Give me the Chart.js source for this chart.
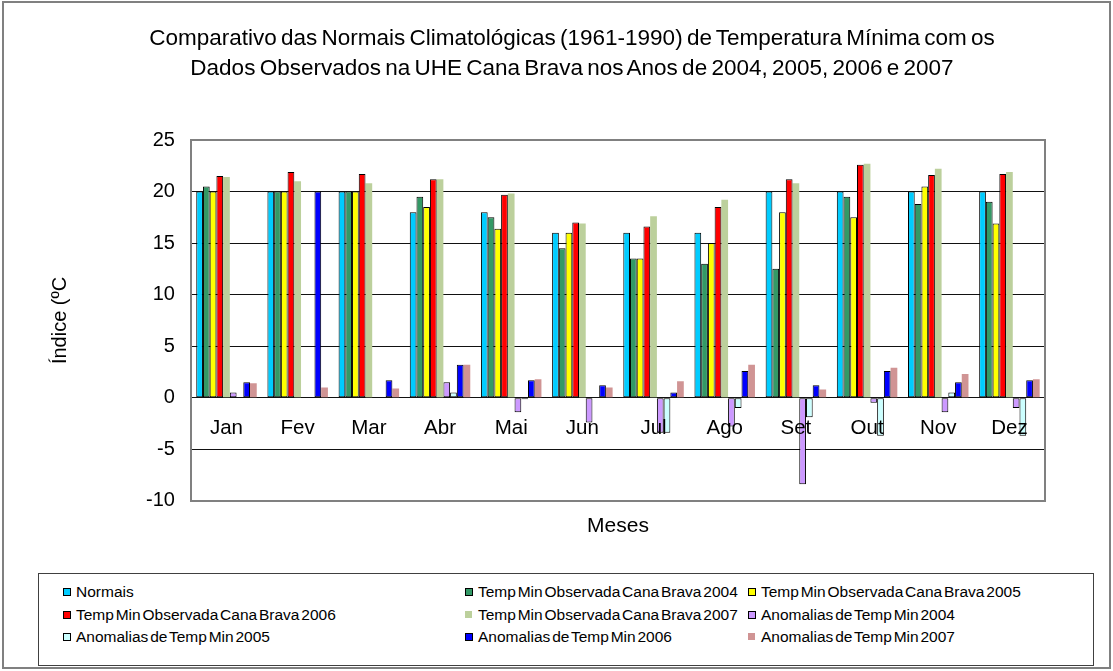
<!DOCTYPE html>
<html>
<head>
<meta charset="utf-8">
<script src="https://cdn.jsdelivr.net/npm/chart.js@4.4.0/dist/chart.umd.min.js"></script>
<style>
    html, body { margin: 0; padding: 0; background: #fff; }
    body { width: 1113px; height: 671px; position: relative; overflow: hidden; font-family: "Liberation Sans", Arial, sans-serif; }
    #frame { position: absolute; left: 2px; top: 1px; width: 1109px; height: 668px; box-sizing: border-box; border: 2px solid #808080; }
    #title { position: absolute; left: 0; top: 23px; width: 1144px; text-align: center; font-size: 22.5px; line-height: 30px; word-spacing: -2px; color: #000; }
    #chartCurve { position: absolute; left: 0; top: 0; }
    #legend { position: absolute; left: 38px; top: 573px; width: 1056px; height: 93px; box-sizing: border-box; border: 1px solid #404040; }
    .item { position: absolute; height: 20px; font-size: 15.5px; line-height: 20px; white-space: nowrap; word-spacing: -2.5px; color: #000; }
    .swatch { position: absolute; left: 0; top: 6px; width: 6px; height: 6px; border: 1px solid #000; }
    .item span.txt { position: absolute; left: 13px; top: 0; }
</style>
</head>
<body>
<div id="frame"></div>
<canvas id="chartCurve" width="1113" height="560"></canvas>
<div id="title">Comparativo das Normais Climatológicas (1961-1990) de Temperatura Mínima com os<br>Dados Observados na UHE Cana Brava nos Anos de 2004, 2005, 2006 e 2007</div>
<div id="legend"></div>
<script>
// months on the x axis
const MONTHS = ["Jan", "Fev", "Mar", "Abr", "Mai", "Jun", "Jul", "Ago", "Set", "Out", "Nov", "Dez"];
const Y_TICKS = [-10, -5, 0, 5, 10, 15, 20, 25];

// series values (ºC)
const normais  = [20, 20, 20, 18, 18, 16, 16, 16, 20, 20, 20, 20];
const obs2004  = [20.5, 20, 20, 19.5, 17.5, 14.5, 13.5, 13, 12.5, 19.5, 18.8, 19];
const obs2005  = [20, 20, 20, 18.5, 16.4, 16, 13.5, 15, 18, 17.5, 20.5, 16.9];
const obs2006  = [21.5, 21.9, 21.7, 21.2, 19.7, 17, 16.6, 18.5, 21.2, 22.6, 21.6, 21.7];
const obs2007  = [21.4, 21, 20.8, 21.2, 19.8, 16.9, 17.6, 19.2, 20.8, 22.7, 22.2, 21.9];
const anom2004 = [0.5, 0, 0, 1.5, -1.4, -2.4, -3.4, -2.8, -8.4, -0.5, -1.4, -1.0];
const anom2005 = [0, 0, 0, 0.5, -0.15, 0, -3.4, -1.0, -1.9, -3.7, 0.5, -3.7];
const anom2006 = [1.5, 20, 1.7, 3.2, 1.7, 1.2, 0.5, 2.6, 1.2, 2.6, 1.5, 1.7];
const anom2007 = [1.4, 1.0, 0.9, 3.2, 1.8, 1.0, 1.6, 3.2, 0.8, 2.9, 2.3, 1.8];

const SERIES_NAMES = [
    "Normais",
    "Temp Min Observada Cana Brava 2004",
    "Temp Min Observada Cana Brava 2005",
    "Temp Min Observada Cana Brava 2006",
    "Temp Min Observada Cana Brava 2007",
    "Anomalias de Temp Min 2004",
    "Anomalias de Temp Min 2005",
    "Anomalias de Temp Min 2006",
    "Anomalias de Temp Min 2007"
];
const SERIES_DATA = [normais, obs2004, obs2005, obs2006, obs2007, anom2004, anom2005, anom2006, anom2007];
const BCOLOR = ["#00CCFF", "#339966", "#FFFF00", "#FF0000", "#BCD09C", "#CC99FF", "#CCFFFF", "#0000FF", "#D09494"];
const BORDER = [1, 1, 1, 1, 0, 1, 1, 1, 0];

const FONT = "'Liberation Sans', Arial, sans-serif";

// month names sit just under the zero line, like in the excel chart
const monthLabels = {
    id: "monthLabels",
    afterDatasetsDraw(chart) {
        const c = chart.ctx, xs = chart.scales.x, ys = chart.scales.y;
        const y0 = ys.getPixelForValue(0) + 31;
        c.save();
        c.font = "20.5px " + FONT;
        c.fillStyle = "#000";
        c.textAlign = "center";
        c.textBaseline = "middle";
        MONTHS.forEach(function(m, i) { c.fillText(m, xs.getPixelForValue(i), y0); });
        c.restore();
    }
};
// grey frame round the plot area
const plotFrame = {
    id: "plotFrame",
    beforeDatasetsDraw(chart) {
        const a = chart.chartArea, c = chart.ctx;
        c.save();
        c.strokeStyle = "#808080";
        c.lineWidth = 2;
        c.strokeRect(Math.round(a.left), Math.round(a.top), Math.round(a.right - a.left), Math.round(a.bottom - a.top));
        c.restore();
    }
};

var datasets = SERIES_DATA.map(function(d, i) {
    return {
        label: SERIES_NAMES[i],
        data: d,
        backgroundColor: BCOLOR[i],
        borderColor: "#000",
        borderWidth: BORDER[i],
        borderSkipped: false,
        barPercentage: 1.0,
        categoryPercentage: 0.85
    };
});

var ctx = document.getElementById("chartCurve").getContext("2d");
var chartCurve = new Chart(ctx, {
    type: "bar",
    data: { labels: MONTHS, datasets: datasets },
    options: {
        responsive: false,
        animation: false,
        devicePixelRatio: 1,
        layout: { padding: { top: 140, right: 68, bottom: 17, left: 0 } },
        plugins: {
            legend: { display: false },
            tooltip: { enabled: false },
            title: { display: false }
        },
        scales: {
            x: {
                grid: { display: false, drawTicks: false },
                border: { display: false },
                ticks: { display: false },
                title: {
                    display: true,
                    text: "Meses",
                    color: "#000",
                    font: { family: FONT, size: 21 },
                    padding: { top: 13, bottom: 4 }
                }
            },
            y: {
                min: -10,
                max: 25,
                afterBuildTicks: function(axis) { axis.ticks = Y_TICKS.map(function(v) { return { value: v }; }); },
                grid: {
                    drawTicks: false,
                    color: function(c) { return (c.tick && (c.tick.value === 25 || c.tick.value === -10)) ? "rgba(0,0,0,0)" : "#111"; },
                    lineWidth: 1
                },
                border: { display: false },
                ticks: { color: "#000", padding: 16, font: { family: FONT, size: 20 } },
                title: {
                    display: true,
                    text: "Índice (ºC",
                    color: "#000",
                    font: { family: FONT, size: 20 },
                    padding: { top: 48, bottom: 58 }
                }
            }
        }
    },
    plugins: [plotFrame, monthLabels]
});

// legend in three columns, as in the original
const LEG_COLS = [24, 426, 709];
const LEG_ROWS = [8, 31, 53];
var legend = document.getElementById("legend");
SERIES_NAMES.forEach(function(name, i) {
    var item = document.createElement("div");
    item.className = "item";
    item.style.left = LEG_COLS[i % 3] + "px";
    item.style.top = LEG_ROWS[Math.floor(i / 3)] + "px";
    var sw = document.createElement("span");
    sw.className = "swatch";
    sw.style.background = BCOLOR[i];
    if (!BORDER[i]) { sw.style.border = "none"; sw.style.width = "7px"; sw.style.height = "7px"; }
    var tx = document.createElement("span");
    tx.className = "txt";
    tx.textContent = name;
    item.appendChild(sw);
    item.appendChild(tx);
    legend.appendChild(item);
});
</script>
</body>
</html>
